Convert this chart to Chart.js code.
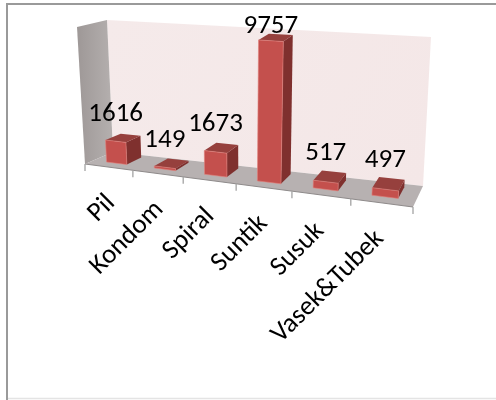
<!DOCTYPE html>
<html><head><meta charset="utf-8">
<style>html,body{margin:0;padding:0;background:#fff}#w{position:absolute;left:0;top:0;width:496px;height:400px}</style>
<script src="https://cdn.jsdelivr.net/npm/chart.js@4"></script>
</head><body><div id="w"><canvas id="c" width="496" height="400"></canvas></div>
<script>
const categories = ['Pil','Kondom','Spiral','Suntik','Susuk','Vasek&Tubek'];
const seriesValues = [1616,149,1673,9757,517,497];
const yMax = 10000;

// floor corners and wall verticals of the 3D box, in screen pixels
const FL=[85,164],FR=[413,207],BL=[113,152],BR=[423,186];
const VFL=[-8,-137],VFR=[10,-155],VBL=[-6,-132],VBR=[8,-149];
const persp=1.17, D0=0.3, D1=0.85;
const lerp=(a,b,t)=>[a[0]+(b[0]-a[0])*t,a[1]+(b[1]-a[1])*t];
function P(u,d,h){
  const t=u/(u+(1-u)*persp);
  const base=lerp(lerp(FL,FR,t),lerp(BL,BR,t),d);
  const v=lerp(lerp(VFL,VFR,t),lerp(VBL,VBR,t),d);
  return [base[0]+v[0]*h,base[1]+v[1]*h];
}
function poly(ctx,pts,fill){
  ctx.beginPath();pts.forEach((p,i)=>i?ctx.lineTo(p[0],p[1]):ctx.moveTo(p[0],p[1]));ctx.closePath();
  ctx.fillStyle=fill;ctx.fill();
}
const FONT='27px Carlito, Lato, sans-serif';
const box3d={
  id:'box3d',
  beforeDatasetsDraw(chart){
    const ctx=chart.ctx;
    ctx.save();
    const g=ctx.createLinearGradient(107,20,423,186);
    g.addColorStop(0,'#f5eaea');g.addColorStop(1,'#f4e7e7');
    poly(ctx,[P(0,1,0),P(0,1,1),P(1,1,1),P(1,1,0)],g);
    const g2=ctx.createLinearGradient(77,0,113,0);
    g2.addColorStop(0,'#9e9897');g2.addColorStop(1,'#b5b0af');
    poly(ctx,[P(0,0,0),P(0,0,1),P(0,1,1),P(0,1,0)],g2);
    poly(ctx,[P(0,0,0),P(1,0,0),P(1,1,0),P(0,1,0)],'#b7b1b1');
    ctx.strokeStyle='#8f8b8b';ctx.lineWidth=1.2;
    ctx.beginPath();let a=P(0,0,0),b=P(1,0,0);ctx.moveTo(a[0],a[1]);ctx.lineTo(b[0],b[1]);ctx.stroke();
    ctx.strokeStyle='#a3a3a3';ctx.lineWidth=1.3;
    for(let i=0;i<=categories.length;i++){const p=P(i/categories.length,0,0);ctx.beginPath();ctx.moveTo(p[0],p[1]);ctx.lineTo(p[0],p[1]+7);ctx.stroke();}
    ctx.restore();
  },
  beforeDatasetDraw(chart,args){
    const ctx=chart.ctx,a=chart.chartArea,meta=args.meta,y=chart.scales.y;
    meta.data.forEach(el=>{
      const W=a.right-a.left,u0=(el.x-el.width/2-a.left)/W,u1=(el.x+el.width/2-a.left)/W;
      const h=(y.bottom-el.y)/(y.bottom-y.top);
      const f0=P(u0,D0,0),f1=P(u1,D0,0),b1=P(u1,D1,0);
      const ft0=P(u0,D0,h),ft1=P(u1,D0,h),bt0=P(u0,D1,h),bt1=P(u1,D1,h);
      poly(ctx,[f1,b1,bt1,ft1],'#7f302e');
      poly(ctx,[ft0,ft1,bt1,bt0],'#96403d');
      poly(ctx,[f0,f1,ft1,ft0],'#c4504d');
      ctx.strokeStyle='rgba(225,130,125,.6)';ctx.lineWidth=1;
      ctx.beginPath();ctx.moveTo(ft0[0],ft0[1]);ctx.lineTo(ft1[0],ft1[1]);ctx.lineTo(f1[0],f1[1]);ctx.lineTo(f0[0],f0[1]);ctx.closePath();ctx.stroke();
    });
    return false;
  },
  afterDatasetsDraw(chart){
    const ctx=chart.ctx,a=chart.chartArea,meta=chart.getDatasetMeta(0),y=chart.scales.y,x=chart.scales.x;
    ctx.save();
    ctx.fillStyle='#000';ctx.font=FONT;
    meta.data.forEach((el,i)=>{
      const u=(el.x-a.left)/(a.right-a.left),h=(y.bottom-el.y)/(y.bottom-y.top);
      const p=P(u,(D0+D1)/2,h),q=P(u,D0,h);
      ctx.textAlign='center';ctx.textBaseline='alphabetic';
      ctx.fillText(String(seriesValues[i]),q[0],Math.max(p[1]-16.5,33));
    });
    categories.forEach((c,i)=>{
      const u=(x.getPixelForValue(i)-a.left)/(a.right-a.left),p=P(u,0,0);
      ctx.save();ctx.translate(p[0]+2.5-0.8*i,p[1]+32);ctx.rotate(-Math.PI/4);ctx.textAlign='right';ctx.textBaseline='middle';ctx.fillText(c,0,0);ctx.restore();
    });
    ctx.restore();
  },
  afterDraw(chart){
    const ctx=chart.ctx;ctx.save();
    ctx.strokeStyle='#9a9a9a';ctx.lineWidth=2;
    ctx.beginPath();ctx.moveTo(7,400);ctx.lineTo(7,4);ctx.lineTo(496,4);ctx.stroke();
    ctx.strokeStyle='#e4e4e4';ctx.lineWidth=1.5;
    ctx.beginPath();ctx.moveTo(8,398.5);ctx.lineTo(496,398.5);ctx.stroke();
    ctx.restore();
  }
};
new Chart(document.getElementById('c'),{
  type:'bar',
  data:{labels:categories,datasets:[{data:seriesValues,backgroundColor:'#c4504d',barPercentage:0.43,categoryPercentage:1}]},
  options:{responsive:false,animation:false,devicePixelRatio:1,
    layout:{padding:{left:85,right:83,top:27,bottom:193}},
    plugins:{legend:{display:false},tooltip:{enabled:false}},
    scales:{x:{display:false},y:{display:false,min:0,max:yMax}}},
  plugins:[box3d]
});
</script></body></html>
